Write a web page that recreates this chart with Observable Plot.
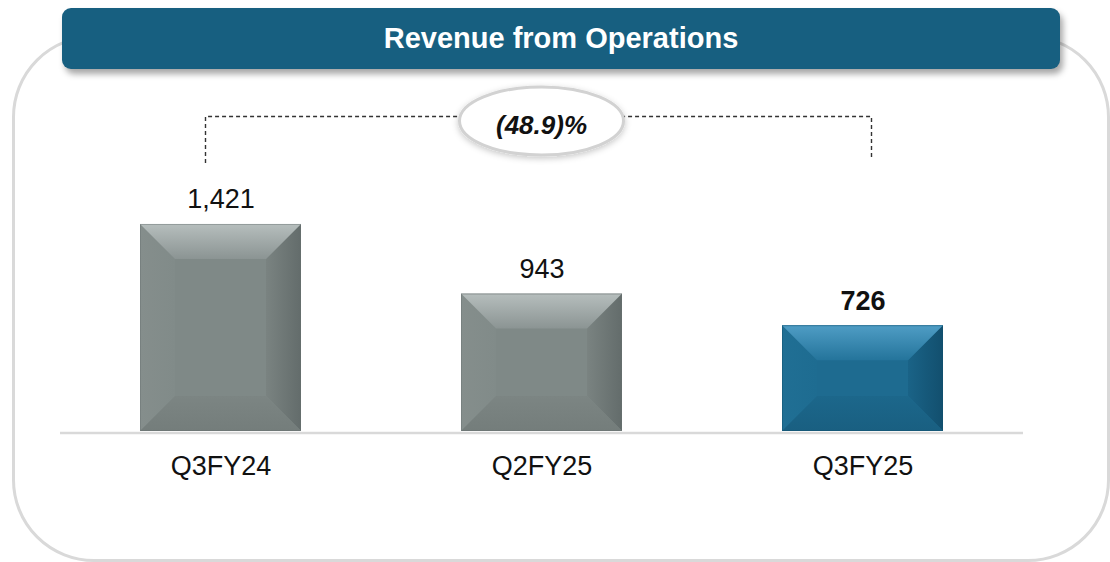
<!DOCTYPE html>
<html><head><meta charset="utf-8">
<script src="https://cdn.jsdelivr.net/npm/d3@7"></script>
<script src="https://cdn.jsdelivr.net/npm/@observablehq/plot@0.6"></script>
<style>
html,body{margin:0;padding:0;background:#fff;}
#wrap{position:relative;width:1110px;height:562px;overflow:hidden;font-family:"Liberation Sans",Arial,sans-serif;}
#frame{position:absolute;left:12px;top:35px;width:1098px;height:527px;box-sizing:border-box;border:3.5px solid #d9d9d9;border-radius:82px;}
#chart{position:absolute;left:0;top:0;}
#header{position:absolute;left:62px;top:8px;width:998px;height:61px;background:#175f80;border-radius:9px;box-shadow:3px 5px 6px rgba(0,0,0,0.35);color:#fff;font-weight:bold;font-size:29px;line-height:61px;text-align:center;}
</style></head><body>
<div id="wrap"><div id="frame"></div><div id="chart"></div><div id="header"></div></div>
<script>
const title = "Revenue from Operations";
const quarters = ["Q3FY24", "Q2FY25", "Q3FY25"];
const revenue = [1421, 943, 726];
const valueLabels = ["1,421", "943", "726"];
const highlight = [false, false, true];
const changeLabel = "(48.9)%";
const bracketFrom = "Q3FY24";
const bracketTo = "Q3FY25";
const bracketTop = 2162;
const bracketLeftEnd = 1840;
const bracketRightEnd = 1860;

const data = quarters.map((q, i) => ({quarter: q, value: revenue[i], label: valueLabels[i], hi: highlight[i]}));
const FONT = '"Liberation Sans", Arial, sans-serif';

document.getElementById("header").textContent = title;

const plot = Plot.plot({
  width: 1110, height: 562,
  marginLeft: 60, marginRight: 87, marginTop: 100, marginBottom: 131,
  style: {background: "transparent", fontFamily: FONT, color: "#111"},
  x: {domain: quarters, paddingInner: 0.5, paddingOuter: 0.25, align: 0.5, label: null},
  y: {domain: [0, 2272], axis: null},
  color: {type: "identity"},
  marks: [
    Plot.ruleY([0], {stroke: "#d9d9d9", strokeWidth: 2.5, dy: 1.5}),
    Plot.barY(data, {x: "quarter", y: "value", fill: d => d.hi ? "#1e6b90" : "#7f8987"}),
    Plot.text(data.filter(d => !d.hi), {x: "quarter", y: "value", text: "label", lineAnchor: "bottom", dy: -16, fontSize: 27, fill: "#111"}),
    Plot.text(data.filter(d => d.hi), {x: "quarter", y: "value", text: "label", lineAnchor: "bottom", dy: -16, fontSize: 27, fontWeight: "bold", fill: "#111"}),
    Plot.axisX({tickSize: 0, tickPadding: 24, fontSize: 27, label: null, fill: "#111"})
  ]
});
document.getElementById("chart").appendChild(plot);

const svg = d3.select(plot);
const defs = svg.append("defs");
function grad(id, x2, y2, stops) {
  const g = defs.append("linearGradient").attr("id", id).attr("x1", 0).attr("y1", 0).attr("x2", x2).attr("y2", y2);
  stops.forEach(([o, c]) => g.append("stop").attr("offset", o).attr("stop-color", c));
}
grad("gTop", 0, 1, [[0, "#b6bebd"], [1, "#8b9493"]]);
grad("gRight", 1, 0, [[0, "#7a8381"], [1, "#636c6b"]]);
grad("gLeft", 1, 0, [[0, "#858e8c"], [1, "#818b89"]]);
grad("gBottom", 0, 1, [[0, "#7c8583"], [1, "#747d7b"]]);
grad("bTop", 0, 1, [[0, "#4f9dc5"], [1, "#24749b"]]);
grad("bRight", 1, 0, [[0, "#1a6387"], [1, "#124f6e"]]);
grad("bLeft", 1, 0, [[0, "#206f94"], [1, "#1e6c91"]]);
grad("bBottom", 0, 1, [[0, "#1c678b"], [1, "#195f81"]]);
const sh = defs.append("filter").attr("id", "ellShadow").attr("x", "-20%").attr("y", "-40%").attr("width", "140%").attr("height", "180%");
sh.append("feDropShadow").attr("dx", 0).attr("dy", 2).attr("stdDeviation", 3).attr("flood-color", "#000").attr("flood-opacity", 0.22);

const barGroup = svg.select('g[aria-label="bar"]').node();
const bevel = document.createElementNS("http://www.w3.org/2000/svg", "g");
barGroup.parentNode.insertBefore(bevel, barGroup.nextSibling);
const bv = d3.select(bevel);
d3.select(barGroup).selectAll("rect").each(function(_, i) {
  const r = d3.select(this);
  const x = +r.attr("x"), y = +r.attr("y"), w = +r.attr("width"), h = +r.attr("height");
  const b = Math.min(35, w / 2, h / 2);
  const p = data[i].hi ? "b" : "g";
  const pts = (a) => a.map(q => q.join(",")).join(" ");
  bv.append("polygon").attr("points", pts([[x, y], [x + b, y + b], [x + b, y + h - b], [x, y + h]])).attr("fill", `url(#${p}Left)`);
  bv.append("polygon").attr("points", pts([[x + w, y], [x + w - b, y + b], [x + w - b, y + h - b], [x + w, y + h]])).attr("fill", `url(#${p}Right)`);
  bv.append("polygon").attr("points", pts([[x, y + h], [x + b, y + h - b], [x + w - b, y + h - b], [x + w, y + h]])).attr("fill", `url(#${p}Bottom)`);
  bv.append("polygon").attr("points", pts([[x, y], [x + w, y], [x + w - b, y + b], [x + b, y + b]])).attr("fill", `url(#${p}Top)`);
  bv.append("rect").attr("x", x + 0.5).attr("y", y + 0.5).attr("width", w - 1).attr("height", h - 1)
    .attr("fill", "none").attr("stroke", data[i].hi ? "#124f6d" : "#687170").attr("stroke-width", 1).attr("stroke-opacity", 0.45);
});

// bracket annotation
const xs = plot.scale("x"), ys = plot.scale("y");
const cx = q => xs.apply(q) + xs.bandwidth / 2;
const xl = Math.round(cx(bracketFrom) - 15.5) + 0.5, xr = Math.round(cx(bracketTo) + 8.5) + 0.5;
const yt = Math.round(ys.apply(bracketTop)) + 0.5;
const ann = svg.append("g").attr("fill", "none").attr("stroke", "#333").attr("stroke-width", 1.4).attr("stroke-dasharray", "4,3");
ann.append("path").attr("d", `M${xl},${ys.apply(bracketLeftEnd)}V${yt}H${xr}V${ys.apply(bracketRightEnd)}`);
const mx = (cx(bracketFrom) + cx(bracketTo)) / 2;
svg.append("ellipse").attr("cx", mx).attr("cy", yt + 4.5).attr("rx", 82).attr("ry", 34)
  .attr("fill", "#fff").attr("stroke", "#d2d2d2").attr("stroke-width", 3).attr("filter", "url(#ellShadow)");
svg.append("text").attr("x", mx).attr("y", yt + 17).attr("text-anchor", "middle")
  .attr("font-family", FONT).attr("font-size", 26).attr("font-weight", "bold").attr("font-style", "italic").attr("fill", "#111")
  .text(changeLabel);
</script>
</body></html>
